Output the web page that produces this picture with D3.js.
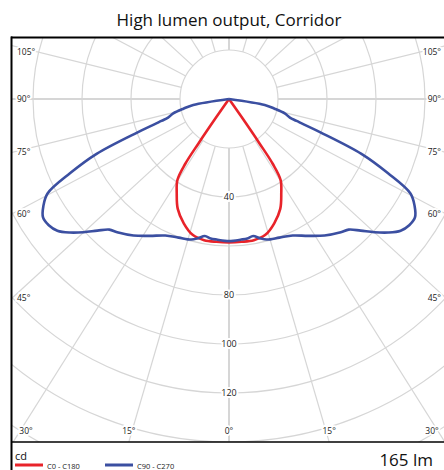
<!DOCTYPE html>
<meta charset="utf-8">
<style>
body { margin: 0; background: #fff; }
svg text { font-family: "Open Sans", "DejaVu Sans", sans-serif; }
</style>
<body>
<script src="https://cdn.jsdelivr.net/npm/d3@7"></script>
<script>
// ---- data (angle from nadir in degrees, intensity in cd) ----
var redAngles = [0, 5, 10, 15, 20, 25, 29, 32.5, 34, 34.5, 35, 35.5];
var redCd     = [58.5, 58.5, 58.5, 57.4, 54, 49.5, 44, 39.2, 32, 22, 9, 0];

var blueAngles = [0, 5, 7.5, 10, 12.5, 15, 20, 25, 30, 35, 40, 42.5, 45, 47.5, 50, 52.5, 55, 57.5, 60, 62.5, 65, 67.5, 70, 72, 73, 75.5, 78, 80.5, 81];
var blueCd     = [58, 57.6, 57.4, 56.8, 58.2, 59.4, 60.2, 61.5, 64.5, 68, 71, 72.3, 76, 80.5, 84.8, 88.3, 89.8, 90, 87.5, 83.5, 71.5, 58.5, 39.5, 29, 26, 23.5, 19, 14.8, 0];

var circleTicks = [20, 40, 60, 80, 100, 120, 140, 160, 180];
var radialLabels = [40, 80, 100, 120];
var angleTicks = [0, 15, 30, 45, 60, 75, 90, 105];

var W = 444, H = 470;
var cx = 229, cy = 99;
var box = {left: 12, top: 38, right: 446, bottom: 442};
var k = 1.09; // rays in the original are drawn a little wider than true angles
var red = "#e8232a", blue = "#3b4fa1", grid = "#d6d6d6";

var r = d3.scaleLinear().domain([0, 20]).range([0, 49]);
var rad = d3.scaleLinear().domain([0, 180]).range([0, Math.PI]);

var svg = d3.select("body").append("svg")
    .attr("width", W).attr("height", H);

svg.append("text")
    .attr("x", cx).attr("y", 26)
    .attr("text-anchor", "middle")
    .attr("font-size", 17)
    .attr("fill", "#111")
    .text("High lumen output, Corridor");

svg.append("clipPath").attr("id", "clip")
  .append("rect")
    .attr("x", box.left).attr("y", box.top)
    .attr("width", box.right - box.left).attr("height", box.bottom - box.top);

var plot = svg.append("g").attr("clip-path", "url(#clip)");
var g = plot.append("g").attr("transform", "translate(" + cx + "," + cy + ")");

// circles
g.selectAll(".ring").data(circleTicks).enter().append("circle")
    .attr("class", "ring")
    .attr("r", function(d) { return r(d); })
    .attr("fill", "none")
    .attr("stroke", grid)
    .attr("stroke-width", 1.2);

// rays
function dir(a, sign) {
  var dx = sign * k * Math.sin(rad(a)), dy = Math.cos(rad(a));
  var n = Math.sqrt(dx * dx + dy * dy);
  return [dx / n, dy / n];
}
var rays = d3.range(0, 360, 15);
g.selectAll(".ray").data(rays).enter().append("line")
    .attr("class", "ray")
    .attr("x1", function(d) { return dir(d, 1)[0] * r(20); })
    .attr("y1", function(d) { return dir(d, 1)[1] * r(20); })
    .attr("x2", function(d) { return dir(d, 1)[0] * 700; })
    .attr("y2", function(d) { return dir(d, 1)[1] * 700; })
    .attr("stroke", grid)
    .attr("stroke-width", function(d) { return d % 90 == 0 ? 2 : 1.2; });

// curves
function curvePoints(angles, values) {
  var pts = [];
  for (var i = angles.length - 1; i >= 0; i--) pts.push([Math.PI - rad(angles[i]), r(values[i])]);
  for (var j = 1; j < angles.length; j++) pts.push([Math.PI + rad(angles[j]), r(values[j])]);
  return pts;
}
var line = d3.lineRadial()
    .angle(function(d) { return d[0]; })
    .radius(function(d) { return d[1]; })
    .curve(d3.curveCatmullRom.alpha(0.5));

g.append("path")
    .attr("d", line(curvePoints(redAngles, redCd)))
    .attr("fill", "none").attr("stroke", red).attr("stroke-width", 2.6)
    .attr("stroke-linejoin", "round");
g.append("path")
    .attr("d", line(curvePoints(blueAngles, blueCd)))
    .attr("fill", "none").attr("stroke", blue).attr("stroke-width", 2.6)
    .attr("stroke-linejoin", "round");

// radial labels
svg.selectAll(".rlab").data(radialLabels).enter().append("text")
    .attr("class", "rlab")
    .attr("x", cx).attr("y", function(d) { return cy + r(d) + 3; })
    .attr("text-anchor", "middle")
    .attr("font-size", 9)
    .attr("fill", "#222")
    .attr("stroke", "#fff").attr("stroke-width", 4).attr("paint-order", "stroke")
    .text(function(d) { return d; });

// angle labels where the rays meet the frame
var angLabels = [];
angleTicks.forEach(function(a) {
  (a == 0 ? [1] : [-1, 1]).forEach(function(s) {
    var d = dir(a, s);
    var tx = d[0] < 0 ? (box.left - cx) / d[0] : d[0] > 0 ? (box.right - cx) / d[0] : Infinity;
    var ty = d[1] > 0 ? (box.bottom - cy) / d[1] : (box.top - cy) / d[1];
    var o = {a: a};
    if (ty <= tx) {
      o.x = Math.max(box.left + 14, Math.min(box.right - 14, cx + d[0] * ty));
      o.y = box.bottom - 11;
      o.anchor = "middle";
    } else {
      var hy = cy + d[1] * tx;
      o.y = Math.max(box.top + 14, Math.min(box.bottom - 11, hy));
      o.x = s < 0 ? box.left + 5 : box.right - 5;
      o.anchor = s < 0 ? "start" : "end";
    }
    angLabels.push(o);
  });
});
svg.selectAll(".alab").data(angLabels).enter().append("text")
    .attr("class", "alab")
    .attr("x", function(d) { return d.x; })
    .attr("y", function(d) { return d.y; })
    .attr("dy", "0.35em")
    .attr("text-anchor", function(d) { return d.anchor; })
    .attr("font-size", 8.5)
    .attr("fill", "#222")
    .attr("stroke", "#fff").attr("stroke-width", 4).attr("paint-order", "stroke")
    .text(function(d) { return d.a + "°"; });

// frame
svg.append("line").attr("x1", 11).attr("x2", W).attr("y1", 37.5).attr("y2", 37.5)
    .attr("stroke", "#000").attr("stroke-width", 2);
svg.append("line").attr("x1", 11.5).attr("x2", 11.5).attr("y1", 36.5).attr("y2", H)
    .attr("stroke", "#000").attr("stroke-width", 2);
svg.append("line").attr("x1", 11).attr("x2", W).attr("y1", 442).attr("y2", 442)
    .attr("stroke", "#000").attr("stroke-width", 1.5);

// legend
svg.append("text").attr("x", 15).attr("y", 460).attr("font-size", 11).attr("fill", "#111").text("cd");
var legend = [{label: "C0 - C180", color: red, x: 15}, {label: "C90 - C270", color: blue, x: 105}];
var lg = svg.selectAll(".leg").data(legend).enter().append("g").attr("class", "leg");
lg.append("line")
    .attr("x1", function(d) { return d.x; }).attr("x2", function(d) { return d.x + 28; })
    .attr("y1", 465).attr("y2", 465)
    .attr("stroke", function(d) { return d.color; }).attr("stroke-width", 3);
lg.append("text")
    .attr("x", function(d) { return d.x + 32; }).attr("y", 469)
    .attr("font-size", 7.5).attr("fill", "#222")
    .text(function(d) { return d.label; });

svg.append("text").attr("x", 433).attr("y", 466).attr("text-anchor", "end")
    .attr("font-size", 17).attr("fill", "#111").text("165 lm");
</script>
